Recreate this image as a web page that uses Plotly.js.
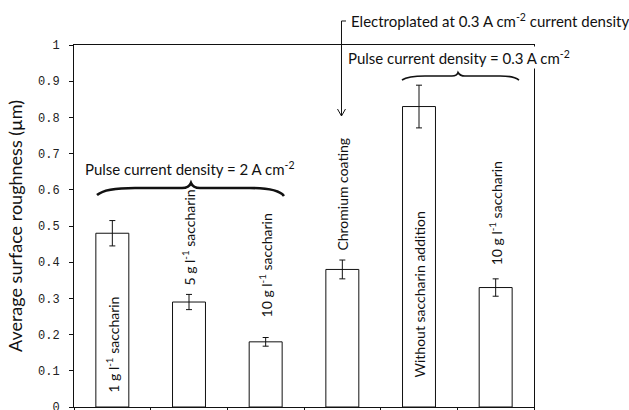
<!DOCTYPE html>
<html>
<head>
<meta charset="utf-8">
<script src="https://cdn.plot.ly/plotly-3.0.1.min.js"></script>
<style>
  html, body { margin: 0; padding: 0; background: #fff; }
  #chart { width: 629px; height: 410px; }
</style>
</head>
<body>
<div id="chart"></div>
<script>
// Coating groups (one bar each)
const categories = [
  'PC 2 A · 1 g/l', 'PC 2 A · 5 g/l', 'PC 2 A · 10 g/l',
  'Chromium', 'PC 0.3 A · 0 g/l', 'PC 0.3 A · 10 g/l'
];
const barLabels = [
  '1 g l<sup>-1</sup> saccharin', '5 g l<sup>-1</sup> saccharin',
  '10 g l<sup>-1</sup> saccharin', 'Chromium coating',
  'Without saccharin addition', '10 g l<sup>-1</sup> saccharin'
];
// Average surface roughness (µm) and its spread
const roughness = [0.48, 0.29, 0.18, 0.38, 0.83, 0.33];
const roughnessErr = [0.035, 0.021, 0.012, 0.026, 0.059, 0.024];
const yTicks = [0, 0.1, 0.2, 0.3, 0.4, 0.5, 0.6, 0.7, 0.8, 0.9, 1];

// Plot frame in pixels
const M = { l: 74, r: 95, t: 45, b: 3 };
const W = 629, H = 410;
const pw = W - M.l - M.r, ph = H - M.t - M.b;
const fx = px => (px - M.l) / pw;
const fy = py => (H - M.b - py) / ph;
const path = pts => pts.map(([c, a, b]) => c + ' ' + fx(a).toFixed(4) + ',' + fy(b).toFixed(4)).join(' ');

const FAMILY = 'Lato, "Noto Sans", sans-serif';
const headFont = { family: FAMILY, size: 15, color: '#111' };
const barFont = { family: FAMILY, size: 14, color: '#111' };

// Where each rotated bar label starts (data y of its lower end)
const labelBase = [0.035, 0.33, 0.241, 0.426, 0.076, 0.385];

const annotations = barLabels.map((t, i) => ({
  x: categories[i], y: labelBase[i], xref: 'x', yref: 'y',
  text: t, textangle: -90, showarrow: false,
  xanchor: 'center', yanchor: 'bottom', font: barFont
}));

annotations.push(
  { xref: 'paper', yref: 'paper', x: fx(190), y: fy(168), xanchor: 'center', yanchor: 'middle',
    text: 'Pulse current density = 2 A cm<sup>-2</sup>', showarrow: false, font: headFont },
  { xref: 'paper', yref: 'paper', x: fx(459), y: fy(58), xanchor: 'center', yanchor: 'middle',
    text: 'Pulse current density = 0.3 A cm<sup>-2</sup>', showarrow: false, font: headFont,
    bgcolor: '#fff', borderpad: 1 },
  { xref: 'paper', yref: 'paper', x: fx(349), y: fy(21), xanchor: 'left', yanchor: 'middle',
    text: 'Electroplated at 0.3 A cm<sup>-2</sup> current density', showarrow: false, font: headFont }
);

const shapes = [
  // curly brace over the 2 A cm-2 group
  { type: 'path', xref: 'paper', yref: 'paper', line: { color: '#111', width: 2.6 },
    path: path([['M', 97, 195], ['Q', 105, 188], ['', 135, 188], ['L', 182, 188],
                ['Q', 189, 188], ['', 191, 183], ['Q', 193, 188], ['', 200, 188],
                ['L', 250, 188], ['Q', 278, 188], ['', 284, 196]]) },
  // curly brace over the 0.3 A cm-2 group
  { type: 'path', xref: 'paper', yref: 'paper', line: { color: '#111', width: 1.6 },
    path: path([['M', 402, 80], ['Q', 408, 76], ['', 425, 76], ['L', 452, 76],
                ['Q', 457, 76], ['', 458, 72.5], ['Q', 460, 76], ['', 465, 76],
                ['L', 500, 76], ['Q', 514, 76], ['', 519, 80]]) },
  // leader from the electroplating note down to the chromium bar
  { type: 'path', xref: 'paper', yref: 'paper', line: { color: '#111', width: 1 },
    path: path([['M', 346, 21], ['L', 341.5, 21], ['L', 341.5, 116]]) },
  { type: 'path', xref: 'paper', yref: 'paper', line: { color: '#111', width: 1 },
    path: path([['M', 337.5, 109], ['L', 341.5, 116], ['L', 345.5, 109]]) }
];

const trace = {
  type: 'bar', x: categories, y: roughness,
  marker: { color: '#fff', line: { color: '#111', width: 1 } },
  error_y: { type: 'data', array: roughnessErr, visible: true, color: '#111', thickness: 1, width: 3 },
  hoverinfo: 'y'
};

const layout = {
  width: W, height: H, margin: M, showlegend: false,
  paper_bgcolor: '#fff', plot_bgcolor: '#fff', bargap: 0.57,
  xaxis: {
    type: 'category', showticklabels: false, showgrid: false, zeroline: false,
    showline: true, mirror: true, linecolor: '#111', linewidth: 1.4,
    ticks: 'outside', tickson: 'boundaries', ticklen: 4, tickcolor: '#111'
  },
  yaxis: {
    range: [0, 1], tickvals: yTicks, showgrid: false, zeroline: false,
    showline: true, mirror: true, linecolor: '#111', linewidth: 1,
    ticks: 'outside', ticklen: 4, tickcolor: '#111', ticklabelstandoff: 7,
    ticklabeloverflow: 'allow',
    tickfont: { family: '"Liberation Mono", "DejaVu Sans Mono", monospace', size: 12, color: '#222' },
    title: { text: 'Average surface roughness (µm)', standoff: 10,
             font: { family: FAMILY, size: 18, color: '#111' } }
  },
  annotations: annotations,
  shapes: shapes
};

Plotly.newPlot('chart', [trace], layout, { staticPlot: true, displayModeBar: false });
</script>
</body>
</html>
